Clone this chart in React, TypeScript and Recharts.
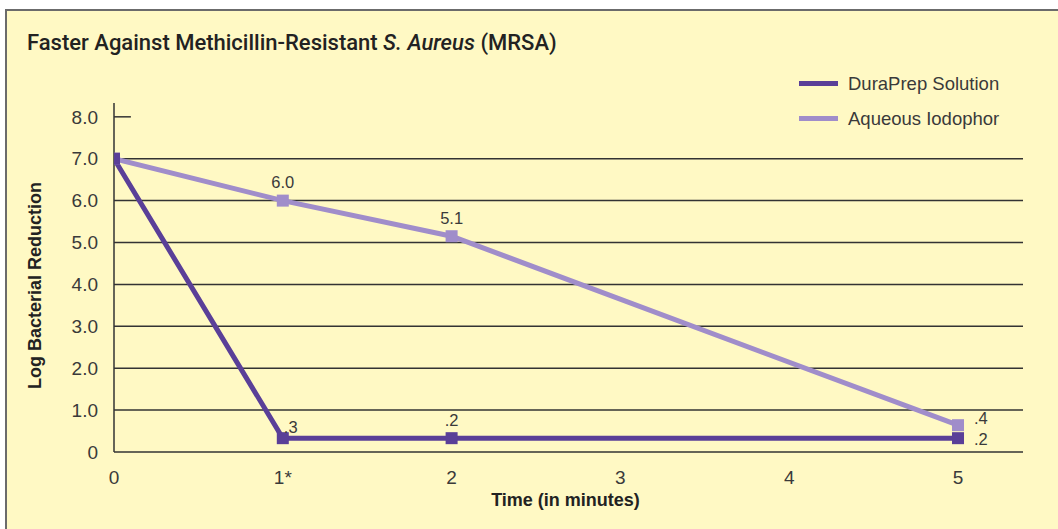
import React from 'react';
import { LineChart, Line, XAxis, YAxis, ReferenceLine, Label, LabelList } from 'recharts';

const minutes = [0, 1, 2, 5];
const duraPrep = [7.0, 0.33, 0.33, 0.33];
const iodophor = [7.0, 6.0, 5.15, 0.64];
const duraLabels = ['', '.3', '.2', '.2'];
const iodoLabels = ['', '6.0', '5.1', '.4'];
const duraLabelPlace = ['none', 'topRight', 'top', 'right'];
const iodoLabelPlace = ['none', 'top', 'top', 'upRight'];
const yTicks = [0, 1, 2, 3, 4, 5, 6, 7, 8];
const gridValues = [1, 2, 3, 4, 5, 6, 7];
const xTicks = [0, 1, 2, 3, 4, 5];
const xTickLabels = ['0', '1*', '2', '3', '4', '5'];
const seriesNames = ['DuraPrep Solution', 'Aqueous Iodophor'];

const DARK = '#5a3f98';
const LIGHT = '#a08dca';
const BG = '#fff9c4';
const TEXT = '#3a3a3a';
const FONT = '"Liberation Sans", Arial, Helvetica, sans-serif';

const data = minutes.map((m, i) => ({
  t: m,
  dura: duraPrep[i],
  iodo: iodophor[i],
}));

const squareDot = (color: string) => (props: any) => {
  const { cx, cy, index } = props;
  if (cx == null || cy == null) return <g key={index} />;
  return <rect key={index} x={cx - 6} y={cy - 6} width={12} height={12} fill={color} />;
};

const makeLabel = (texts: string[], places: string[]) => (props: any) => {
  const { x, y, index } = props;
  const place = places[index];
  const txt = texts[index];
  if (!txt || place === 'none') return null;
  let tx = x, ty = y, anchor: any = 'middle';
  if (place === 'top') { ty = y - 18; }
  else if (place === 'right') { tx = x + 16; anchor = 'start'; ty = y + 1; }
  else if (place === 'upRight') { tx = x + 16; anchor = 'start'; ty = y - 7; }
  else if (place === 'topRight') { tx = x + 1; ty = y - 11; anchor = 'start'; }
  return (
    <text x={tx} y={ty} dy="0.35em" textAnchor={anchor} fontSize={16.5} fill={TEXT} fontFamily={FONT}>
      {txt}
    </text>
  );
};

export default function App() {
  return (
    <div style={{ position: 'absolute', left: 0, top: 0, width: 1058, height: 529, background: '#fff', overflow: 'hidden', fontFamily: FONT }}>
      <div style={{ position: 'absolute', left: 5, top: 9, right: 0, bottom: 0, background: BG, borderTop: '2px solid #6b6b6b', borderLeft: '2px solid #6b6b6b' }} />
      <div style={{ position: 'absolute', left: 27, top: 30, fontSize: 22, fontWeight: 500, color: '#222', whiteSpace: 'nowrap', fontFamily: 'Roboto, "Liberation Sans", Arial, sans-serif' }}>
        Faster Against Methicillin-Resistant <i>S. Aureus</i> (MRSA)
      </div>
      <div style={{ position: 'absolute', left: 799, top: 66, fontFamily: FONT }}>
        {[DARK, LIGHT].map((c, i) => (
          <div key={i} style={{ display: 'flex', alignItems: 'center', height: 35 }}>
            <div style={{ width: 39, height: 5, background: c, marginRight: 10 }} />
            <span style={{ fontSize: 18.5, color: TEXT, whiteSpace: 'nowrap' }}>{seriesNames[i]}</span>
          </div>
        ))}
      </div>
      <div style={{ position: 'absolute', left: 0, top: 0 }}>
        <LineChart width={1058} height={529} data={data} margin={{ top: 103, right: 35, bottom: 0, left: 34 }}>
          <XAxis
            dataKey="t"
            type="number"
            domain={[0, 5.385]}
            ticks={xTicks}
            allowDataOverflow
            tickFormatter={(v: number) => xTickLabels[xTicks.indexOf(v)]}
            axisLine={{ stroke: '#333', strokeWidth: 1.5 }}
            tickLine={false}
            tickSize={0}
            tickMargin={19}
            height={77}
            tick={{ fontSize: 19, fill: TEXT, fontFamily: FONT }}
          >
            <Label
              content={(p: any) => {
                const vb = p.viewBox;
                return (
                  <text x={vb.x + vb.width / 2 - 3} y={vb.y + vb.height - 23} textAnchor="middle" fontSize={18} fontWeight="bold" fill="#222" fontFamily={FONT}>
                    Time (in minutes)
                  </text>
                );
              }}
            />
          </XAxis>
          <YAxis
            type="number"
            domain={[0, 8.33]}
            ticks={yTicks}
            allowDataOverflow
            tickFormatter={(v: number) => (v === 0 ? '0' : v.toFixed(1))}
            axisLine={{ stroke: '#333', strokeWidth: 1.5 }}
            tickLine={false}
            tickSize={0}
            tickMargin={16}
            width={80}
            tick={{ fontSize: 19, fill: TEXT, fontFamily: FONT }}
          >
            <Label
              content={(p: any) => {
                const vb = p.viewBox;
                const cx = vb.x + 1;
                const cy = vb.y + vb.height / 2 + 8;
                return (
                  <text x={cx} y={cy} transform={`rotate(-90 ${cx} ${cy})`} dy="0.35em" textAnchor="middle" fontSize={18} fontWeight="bold" fill="#222" fontFamily={FONT}>
                    Log Bacterial Reduction
                  </text>
                );
              }}
            />
          </YAxis>
          {gridValues.map((g) => (
            <ReferenceLine key={g} y={g} stroke="#333" strokeWidth={1.5} ifOverflow="visible" />
          ))}
          <ReferenceLine segment={[{ x: 0, y: 8 }, { x: 0.1, y: 8 }]} stroke="#333" strokeWidth={1.5} ifOverflow="visible" />
          <Line
            type="linear"
            dataKey="iodo"
            name={seriesNames[1]}
            stroke={LIGHT}
            strokeWidth={5}
            dot={squareDot(LIGHT)}
            activeDot={false}
            isAnimationActive={false}
          >
            <LabelList dataKey="iodo" content={makeLabel(iodoLabels, iodoLabelPlace)} />
          </Line>
          <Line
            type="linear"
            dataKey="dura"
            name={seriesNames[0]}
            stroke={DARK}
            strokeWidth={5}
            dot={squareDot(DARK)}
            activeDot={false}
            isAnimationActive={false}
          >
            <LabelList dataKey="dura" content={makeLabel(duraLabels, duraLabelPlace)} />
          </Line>
        </LineChart>
      </div>
    </div>
  );
}
